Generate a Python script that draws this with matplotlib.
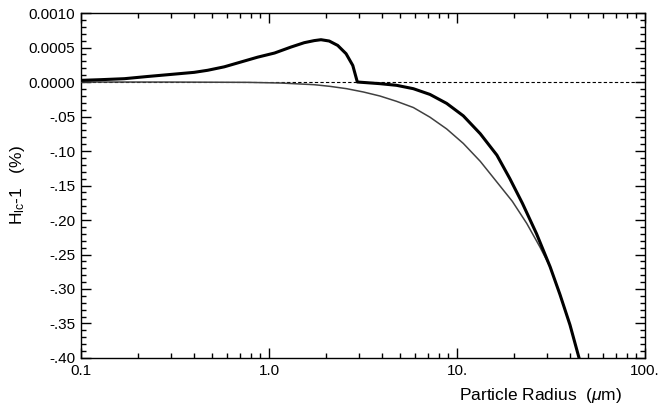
import matplotlib
matplotlib.use("Agg")
import matplotlib.pyplot as plt
import numpy as np
from matplotlib.ticker import FixedLocator, LogLocator, NullFormatter

plt.rcParams["font.family"] = ["Liberation Sans", "DejaVu Sans"]
plt.rcParams["mathtext.fontset"] = "custom"
plt.rcParams["mathtext.rm"] = "Liberation Sans"
plt.rcParams["mathtext.it"] = "Liberation Sans:italic"

# thick curve
radius_thick = [0.1, 0.128, 0.17, 0.226, 0.301, 0.40, 0.472, 0.578, 0.709,
                0.87, 1.07, 1.31, 1.54, 1.74, 1.89, 2.09, 2.32, 2.57, 2.79,
                2.95, 3.89, 4.77, 5.86, 7.18, 8.81, 10.8, 13.3, 16.3, 19.1,
                22.3, 26.5, 31.3, 35.3, 39.9, 44.7, 46.0]
value_thick = [0.000024, 0.000034, 0.000048, 0.00008, 0.00011, 0.00014,
               0.00017, 0.00022, 0.00029, 0.00036, 0.00042, 0.000507,
               0.00057, 0.0006, 0.000613, 0.000594, 0.00053, 0.00041,
               0.00024, 0.0, -0.0024, -0.0048, -0.0097, -0.018, -0.031,
               -0.049, -0.075, -0.106, -0.14, -0.176, -0.22, -0.268, -0.308,
               -0.352, -0.401, -0.42]

# thin curve
radius_thin = [0.1, 0.3, 0.5, 0.77, 1.16, 1.74, 2.11, 2.59, 3.18, 3.89, 4.77,
               5.86, 7.18, 8.81, 10.8, 13.3, 16.3, 19.7, 23.5, 27.6, 31.3,
               35.3, 39.9, 44.7, 46.0]
value_thin = [0.0, -0.0001, -0.0003, -0.0005, -0.0015, -0.0039, -0.0063,
              -0.0097, -0.0145, -0.0203, -0.028, -0.037, -0.051, -0.068,
              -0.089, -0.115, -0.145, -0.173, -0.205, -0.239, -0.268, -0.308,
              -0.352, -0.401, -0.42]

ytick_values = [-0.40, -0.35, -0.30, -0.25, -0.20, -0.15, -0.10, -0.05,
                0.0, 0.0005, 0.0010]
ytick_labels = ["-.40", "-.35", "-.30", "-.25", "-.20", "-.15", "-.10", "-.05",
                "0.0000", "0.0005", "0.0010"]
xtick_values = [0.1, 1.0, 10.0, 100.0]
xtick_labels = ["0.1", "1.0", "10.", "100."]


def forward(y):
    # stretch the positive part by 100 so 0.0005 takes the room of 0.05
    y = np.asarray(y, dtype=float)
    return np.where(y > 0, y * 100.0, y)


def inverse(u):
    u = np.asarray(u, dtype=float)
    return np.where(u > 0, u / 100.0, u)


fig = plt.figure(figsize=(6.62, 4.09), dpi=100)
ax = fig.add_axes([0.1224, 0.1247, 0.8519, 0.8435])

ax.plot(radius_thin, value_thin, color="#404040", lw=1.1, zorder=3)
ax.plot(radius_thick, value_thick, color="black", lw=2.2, zorder=4)
ax.axhline(0.0, color="black", lw=0.8, ls=(0, (3, 2)), zorder=2)

ax.set_xscale("log")
ax.set_yscale("function", functions=(forward, inverse))
ax.set_xlim(0.1, 100)
ax.set_ylim(-0.40, 0.0010)

ax.xaxis.set_major_locator(FixedLocator(xtick_values))
ax.set_xticklabels(xtick_labels)
ax.xaxis.set_minor_locator(LogLocator(base=10, subs=np.arange(2, 10)))
ax.xaxis.set_minor_formatter(NullFormatter())

ax.yaxis.set_major_locator(FixedLocator(ytick_values))
ax.set_yticklabels(ytick_labels)
minor_y = list(np.arange(-0.40, 0.0, 0.01)) + [0.0001, 0.0002, 0.0003, 0.0004,
                                               0.0006, 0.0007, 0.0008, 0.0009]
ax.yaxis.set_minor_locator(FixedLocator(minor_y))

ax.tick_params(which="both", direction="in", top=True, right=True, width=1.0,
               labelsize=11, colors="black")
ax.tick_params(which="major", length=7, pad=4)
ax.tick_params(which="minor", length=3.5)
for s in ax.spines.values():
    s.set_linewidth(1.0)

ax.set_xlabel("Particle Radius  ($\\mu$m)", fontsize=12.5)
ax.xaxis.set_label_coords(0.814, -0.08)
ax.set_ylabel("H$_{\\rm lc}$-1   (%)", fontsize=12.5)
ax.yaxis.set_label_coords(-0.096, 0.5)

fig.savefig("out.png", dpi=100)
